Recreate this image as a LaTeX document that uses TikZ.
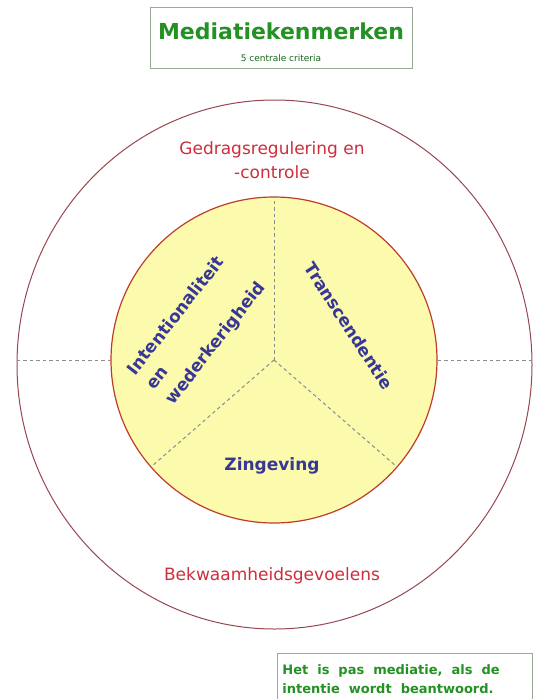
\documentclass[tikz,border=0pt]{standalone}
\usepackage{fontspec}
\setmainfont{DejaVu Sans}
\usepackage{xcolor}
\usetikzlibrary{shapes.geometric,positioning}
\definecolor{mgreen}{RGB}{35,145,35}
\definecolor{mred}{RGB}{205,45,60}
\definecolor{mblue}{RGB}{55,55,150}
\definecolor{mdisc}{RGB}{252,250,172}
\definecolor{mdiscline}{RGB}{190,60,40}
\definecolor{mring}{RGB}{150,70,80}
\definecolor{mbox}{RGB}{150,170,150}
\newcommand{\widewords}{\spaceskip=9pt plus 1pt\relax}
\tikzset{
  titlebox/.style={rectangle, draw=mbox, line width=0.8pt, inner sep=0pt},
  titletext/.style={font=\fontsize{22}{26}\selectfont\bfseries, text=mgreen, inner sep=0pt},
  subtext/.style={font=\fontsize{9}{11}\selectfont, text=mgreen!70!black, inner sep=0pt},
  outerring/.style={ellipse, draw=mring, line width=1pt, inner sep=0pt},
  innerdisc/.style={circle, draw=mdiscline, fill=mdisc, line width=1.2pt, inner sep=0pt},
  divider/.style={draw=gray!90, line width=1pt, dash pattern=on 3.5pt off 3pt},
  ringtext/.style={font=\fontsize{17}{24}\selectfont, text=mred, align=center, inner sep=0pt},
  disctext/.style={font=\fontsize{17}{24}\selectfont\bfseries, text=mblue, inner sep=0pt},
  notebox/.style={rectangle, draw=mbox, line width=0.8pt, align=left, text width=245pt,
    font=\fontsize{13}{19}\selectfont\bfseries, text=mgreen,
    inner xsep=5pt, inner ysep=3pt},
}
\begin{document}
\begin{tikzpicture}[x=1pt, y=-1pt]
  \useasboundingbox (0,0) rectangle (534,699);
  % title
  \node (head) [titlebox, minimum width=262pt, minimum height=61pt] at (281,37.5) {};
  \node (title) [titletext] at (281,31) {Mediatiekenmerken};
  \node (criteria) [subtext] at (281,58) {5 centrale criteria};
  % circles
  \node (outer) [outerring, minimum width=515pt, minimum height=529pt] at (274.5,364.5) {};
  \node (inner) [innerdisc, minimum size=326pt] at (274,360) {};
  \draw[divider] (inner.center) -- (inner.90);
  \draw[divider] (inner.center) -- (inner.221);
  \draw[divider] (inner.center) -- (inner.319);
  \draw[divider] (outer.west |- inner.west) -- (inner.west);
  \draw[divider] (inner.east) -- (outer.east |- inner.east);
  % criteria
  \node (regulering) [ringtext] at (272,160) {Gedragsregulering en\\-controle};
  \node (bekwaam) [ringtext] at (272,576) {Bekwaamheidsgevoelens};
  \node (intentie) [disctext, align=left, rotate=52] at (197,329) {Intentionaliteit\\en\\wederkerigheid};
  \node (transcend) [disctext, rotate=-57] at (349,326) {Transcendentie};
  \node (zin) [disctext] at (272,466) {Zingeving};
  % note
  \node (note) [notebox, anchor=north west, minimum height=52pt] at (277,653)
    {\widewords Het is pas mediatie, als de\\intentie wordt beantwoord.};
\end{tikzpicture}
\end{document}
